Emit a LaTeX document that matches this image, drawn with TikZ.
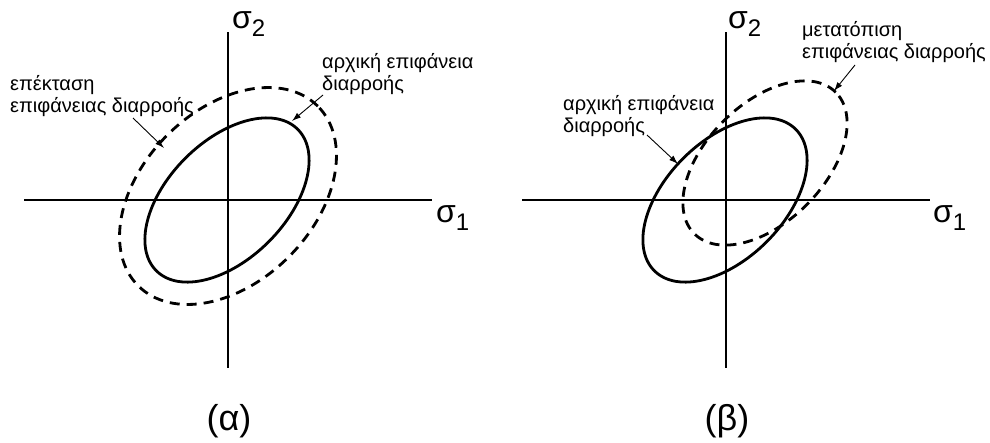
\documentclass[tikz,border=0pt]{standalone}
\usepackage{fontspec}
\setmainfont{Liberation Sans}
\usetikzlibrary{arrows.meta}
\newcommand{\mysub}[1]{\raisebox{-8pt}{\fontsize{24}{24}\selectfont #1}}
\begin{document}
\begin{tikzpicture}[x=1pt,y=-1pt,
  axis/.style={line width=1.2pt},
  surf/.style={line width=2.8pt},
  surfdash/.style={line width=2.8pt, dash pattern=on 10pt off 7pt},
  lbl/.style={font=\fontsize{20}{22}\selectfont, inner sep=0pt, align=left, anchor=base west},
  ptr/.style={line width=0.9pt, -{Latex[length=9pt,width=6pt]}},
  sig/.style={inner sep=0pt, anchor=base west, font=\fontsize{32}{32}\selectfont},
  captxt/.style={inner sep=0pt, anchor=base, font=\fontsize{36}{36}\selectfont}]
\useasboundingbox (0,0) rectangle (990,442);

% ---------- panel (a)
\coordinate (aL) at (24,200);
\coordinate (aR) at (432,200);
\coordinate (aT) at (228,32);
\coordinate (aB) at (228,368);
\draw[axis] (aL) -- (aR);
\draw[axis] (aT) -- (aB);
\node[sig] (as1) at (436,222) {σ\mysub{1}};
\node[sig] (as2) at (232,28) {σ\mysub{2}};

\draw[surf, rotate around={45:(227,200)}] (227,200) ellipse [x radius=100pt, y radius=59pt];
\draw[surfdash, rotate around={45:(228,196)}] (228,196) ellipse [x radius=127pt, y radius=86pt];

\node[lbl] (aext) at (10,112) {επέκταση\\επιφάνειας διαρροής};
\node[lbl] (aini) at (322,90) {αρχική επιφάνεια\\διαρροής};
\coordinate (aextS) at (133,118);
\coordinate (aextE) at (164,148);
\coordinate (ainiS) at (323,95);
\coordinate (ainiE) at (292,121);
\draw[ptr] (aextS) -- (aextE);
\draw[ptr] (ainiS) -- (ainiE);

\node[captxt] (capa) at (229,430) {(α)};

% ---------- panel (b)
\coordinate (bL) at (522,200);
\coordinate (bR) at (930,200);
\coordinate (bT) at (726,32);
\coordinate (bB) at (726,368);
\draw[axis] (bL) -- (bR);
\draw[axis] (bT) -- (bB);
\node[sig] (bs1) at (933,222) {σ\mysub{1}};
\node[sig] (bs2) at (728,28) {σ\mysub{2}};

\draw[surf, rotate around={45:(725,200)}] (725,200) ellipse [x radius=100pt, y radius=59pt];
\draw[surfdash, rotate around={45:(765,163)}] (765,163) ellipse [x radius=100pt, y radius=59pt];

\node[lbl] (bmov) at (802,58) {μετατόπιση\\επιφάνειας διαρροής};
\node[lbl] (bini) at (563,132) {αρχική επιφάνεια\\διαρροής};
\coordinate (bmovS) at (855,65);
\coordinate (bmovE) at (834,91);
\coordinate (biniS) at (647,135);
\coordinate (biniE) at (678,164);
\draw[ptr] (bmovS) -- (bmovE);
\draw[ptr] (biniS) -- (biniE);

\node[captxt] (capb) at (727,430) {(β)};
\end{tikzpicture}
\end{document}
